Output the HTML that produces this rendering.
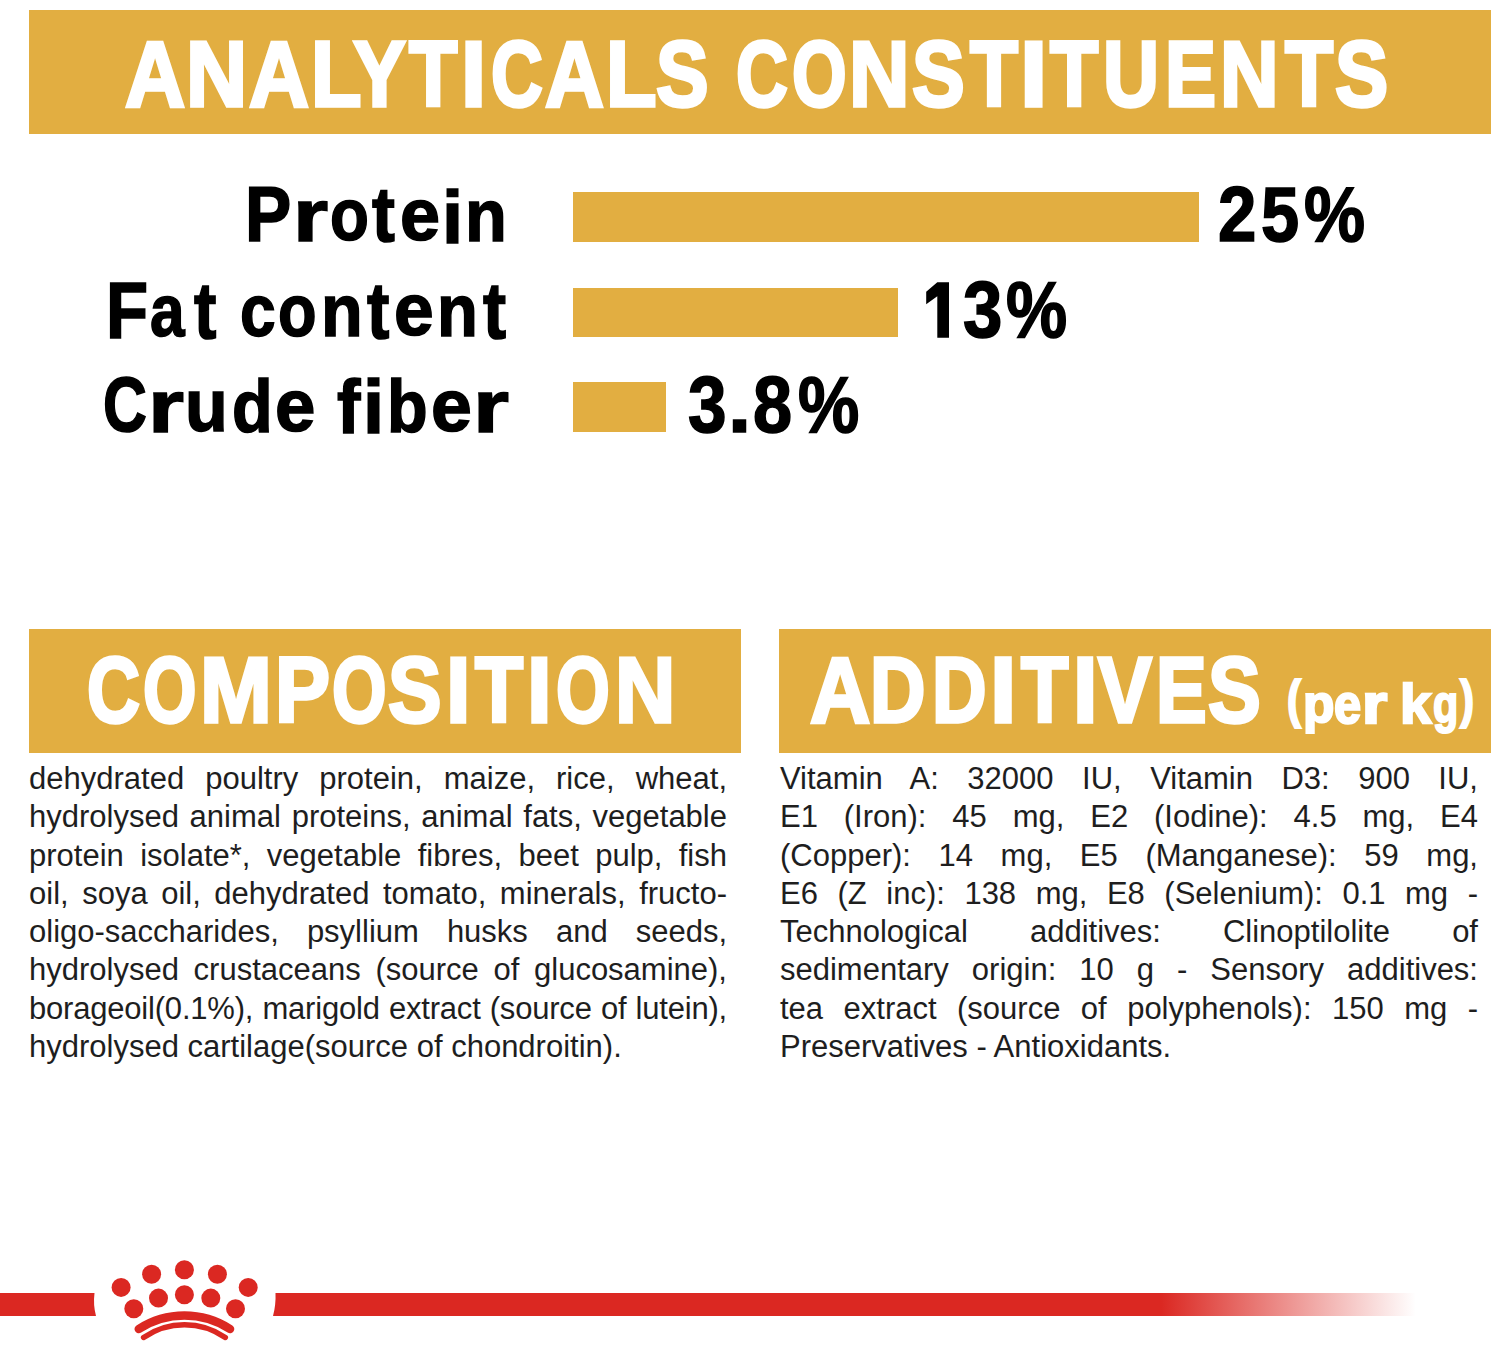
<!DOCTYPE html>
<html><head><meta charset="utf-8"><style>
html,body{margin:0;padding:0;background:#fff;}
body{width:1500px;height:1348px;position:relative;overflow:hidden;font-family:"Liberation Sans",sans-serif;}
.box{position:absolute;background:#E2AE41;}
.t{position:absolute;white-space:nowrap;line-height:1;font-weight:700;transform-origin:0 0;}
.bl{position:absolute;width:698px;font-size:31px;line-height:38.26px;height:38.26px;color:#1e1e1e;text-align:justify;text-align-last:justify;white-space:nowrap;}
.bl{white-space:normal;}
.bl.last{text-align-last:left;}
.red{position:absolute;background:#DB2822;}
</style></head><body>
<div class="box" style="left:29px;top:10px;width:1462px;height:124px"></div>
<span class="t" style="left:125.3px;top:27.96px;font-size:96px;transform:scale(0.8667,0.9643);color:#fff;-webkit-text-stroke:3.5px #fff;">A</span><span class="t" style="left:185.99px;top:27.96px;font-size:96px;transform:scale(0.8817,0.9643);color:#fff;-webkit-text-stroke:3.5px #fff;">N</span><span class="t" style="left:249.1px;top:27.96px;font-size:96px;transform:scale(0.8652,0.9643);color:#fff;-webkit-text-stroke:3.5px #fff;">A</span><span class="t" style="left:310.89px;top:27.96px;font-size:96px;transform:scale(0.8615,0.9643);color:#fff;-webkit-text-stroke:3.5px #fff;">L</span><span class="t" style="left:353.32px;top:27.96px;font-size:96px;transform:scale(0.8242,0.9643);color:#fff;-webkit-text-stroke:3.5px #fff;">Y</span><span class="t" style="left:409.32px;top:27.96px;font-size:96px;transform:scale(0.825,0.9643);color:#fff;-webkit-text-stroke:3.5px #fff;">T</span><span class="t" style="left:461.39px;top:27.96px;font-size:96px;transform:scale(0.9412,0.9643);color:#fff;-webkit-text-stroke:3.5px #fff;">I</span><span class="t" style="left:491.3px;top:27.96px;font-size:96px;transform:scale(0.7478,0.9643);color:#fff;-webkit-text-stroke:3.5px #fff;">C</span><span class="t" style="left:545.1px;top:27.96px;font-size:96px;transform:scale(0.8493,0.9643);color:#fff;-webkit-text-stroke:3.5px #fff;">A</span><span class="t" style="left:605.79px;top:27.96px;font-size:96px;transform:scale(0.8615,0.9643);color:#fff;-webkit-text-stroke:3.5px #fff;">L</span><span class="t" style="left:656.28px;top:27.96px;font-size:96px;transform:scale(0.8213,0.9643);color:#fff;-webkit-text-stroke:3.5px #fff;">S</span><span class="t" style="left:735.8px;top:27.96px;font-size:96px;transform:scale(0.7493,0.9643);color:#fff;-webkit-text-stroke:3.5px #fff;">C</span><span class="t" style="left:792.44px;top:27.96px;font-size:96px;transform:scale(0.7314,0.9643);color:#fff;-webkit-text-stroke:3.5px #fff;">O</span><span class="t" style="left:849.24px;top:27.96px;font-size:96px;transform:scale(0.8717,0.9643);color:#fff;-webkit-text-stroke:3.5px #fff;">N</span><span class="t" style="left:912.48px;top:27.96px;font-size:96px;transform:scale(0.823,0.9643);color:#fff;-webkit-text-stroke:3.5px #fff;">S</span><span class="t" style="left:969.62px;top:27.96px;font-size:96px;transform:scale(0.8183,0.9643);color:#fff;-webkit-text-stroke:3.5px #fff;">T</span><span class="t" style="left:1020.18px;top:27.96px;font-size:96px;transform:scale(1.0235,0.9643);color:#fff;-webkit-text-stroke:3.5px #fff;">I</span><span class="t" style="left:1050.12px;top:27.96px;font-size:96px;transform:scale(0.8233,0.9643);color:#fff;-webkit-text-stroke:3.5px #fff;">T</span><span class="t" style="left:1103.47px;top:27.96px;font-size:96px;transform:scale(0.8082,0.9643);color:#fff;-webkit-text-stroke:3.5px #fff;">U</span><span class="t" style="left:1165.32px;top:27.96px;font-size:96px;transform:scale(0.7965,0.9643);color:#fff;-webkit-text-stroke:3.5px #fff;">E</span><span class="t" style="left:1219.78px;top:27.96px;font-size:96px;transform:scale(0.845,0.9643);color:#fff;-webkit-text-stroke:3.5px #fff;">N</span><span class="t" style="left:1284.82px;top:27.96px;font-size:96px;transform:scale(0.8217,0.9643);color:#fff;-webkit-text-stroke:3.5px #fff;">T</span><span class="t" style="left:1335.17px;top:27.96px;font-size:96px;transform:scale(0.8311,0.9643);color:#fff;-webkit-text-stroke:3.5px #fff;">S</span>
<div class="box" style="left:573px;top:192px;width:626px;height:50px"></div>
<div class="box" style="left:573px;top:288px;width:325px;height:49px"></div>
<div class="box" style="left:573px;top:382px;width:93px;height:50px"></div>
<span class="t" style="left:244.54px;top:175.11px;font-size:78px;transform:scale(0.8891,1.0073);color:#000;-webkit-text-stroke:1.6px #000;">P</span><span class="t" style="left:292.57px;top:177.99px;font-size:78px;transform:scale(1.1577,0.9614);color:#000;-webkit-text-stroke:1.6px #000;">r</span><span class="t" style="left:330.17px;top:178.48px;font-size:78px;transform:scale(0.8163,0.94);color:#000;-webkit-text-stroke:1.6px #000;">o</span><span class="t" style="left:372.3px;top:175.11px;font-size:78px;transform:scale(0.8808,1.0073);color:#000;-webkit-text-stroke:1.6px #000;">t</span><span class="t" style="left:400.15px;top:177.03px;font-size:78px;transform:scale(0.9231,0.9614);color:#000;-webkit-text-stroke:1.6px #000;">e</span><span class="t" style="left:442.12px;top:179.56px;font-size:78px;transform:scale(0.975,0.9552);color:#000;-webkit-text-stroke:1.6px #000;">i</span><span class="t" style="left:465.09px;top:177.99px;font-size:78px;transform:scale(0.8775,0.9614);color:#000;-webkit-text-stroke:1.6px #000;">n</span>
<span class="t" style="left:105.57px;top:270.44px;font-size:78px;transform:scale(0.8833,1.0236);color:#000;-webkit-text-stroke:1.6px #000;">F</span><span class="t" style="left:150.2px;top:273.88px;font-size:78px;transform:scale(0.7977,0.94);color:#000;-webkit-text-stroke:1.6px #000;">a</span><span class="t" style="left:193.8px;top:270.44px;font-size:78px;transform:scale(0.8615,1.0236);color:#000;-webkit-text-stroke:1.6px #000;">t</span><span class="t" style="left:240.45px;top:273.88px;font-size:78px;transform:scale(0.8225,0.94);color:#000;-webkit-text-stroke:1.6px #000;">c</span><span class="t" style="left:278.28px;top:273.88px;font-size:78px;transform:scale(0.8093,0.94);color:#000;-webkit-text-stroke:1.6px #000;">o</span><span class="t" style="left:321.0px;top:273.39px;font-size:78px;transform:scale(0.875,0.9614);color:#000;-webkit-text-stroke:1.6px #000;">n</span><span class="t" style="left:366.9px;top:270.44px;font-size:78px;transform:scale(0.8615,1.0236);color:#000;-webkit-text-stroke:1.6px #000;">t</span><span class="t" style="left:394.07px;top:272.43px;font-size:78px;transform:scale(0.9154,0.9614);color:#000;-webkit-text-stroke:1.6px #000;">e</span><span class="t" style="left:437.27px;top:273.39px;font-size:78px;transform:scale(0.8575,0.9614);color:#000;-webkit-text-stroke:1.6px #000;">n</span><span class="t" style="left:482.7px;top:270.44px;font-size:78px;transform:scale(0.8885,1.0236);color:#000;-webkit-text-stroke:1.6px #000;">t</span>
<span class="t" style="left:102.54px;top:365.22px;font-size:78px;transform:scale(0.7792,1.007);color:#000;-webkit-text-stroke:1.6px #000;">C</span><span class="t" style="left:148.36px;top:368.89px;font-size:78px;transform:scale(1.1846,0.9614);color:#000;-webkit-text-stroke:1.6px #000;">r</span><span class="t" style="left:185.21px;top:367.93px;font-size:78px;transform:scale(0.8974,0.9614);color:#000;-webkit-text-stroke:1.6px #000;">u</span><span class="t" style="left:231.89px;top:369.31px;font-size:78px;transform:scale(0.8537,0.961);color:#000;-webkit-text-stroke:1.6px #000;">d</span><span class="t" style="left:274.84px;top:367.93px;font-size:78px;transform:scale(0.9308,0.9614);color:#000;-webkit-text-stroke:1.6px #000;">e</span><span class="t" style="left:337.4px;top:369.28px;font-size:78px;transform:scale(0.9,0.9655);color:#000;-webkit-text-stroke:1.6px #000;">f</span><span class="t" style="left:363.43px;top:369.28px;font-size:78px;transform:scale(0.975,0.9655);color:#000;-webkit-text-stroke:1.6px #000;">i</span><span class="t" style="left:387.39px;top:369.31px;font-size:78px;transform:scale(0.8537,0.961);color:#000;-webkit-text-stroke:1.6px #000;">b</span><span class="t" style="left:430.62px;top:367.93px;font-size:78px;transform:scale(0.941,0.9614);color:#000;-webkit-text-stroke:1.6px #000;">e</span><span class="t" style="left:472.76px;top:368.89px;font-size:78px;transform:scale(1.1846,0.9614);color:#000;-webkit-text-stroke:1.6px #000;">r</span>
<span class="t" style="left:1218.33px;top:175.46px;font-size:78px;transform:scale(0.8846,1.0036);color:#000;-webkit-text-stroke:1.6px #000;">2</span><span class="t" style="left:1260.94px;top:175.46px;font-size:78px;transform:scale(0.88,1.0036);color:#000;-webkit-text-stroke:1.6px #000;">5</span><span class="t" style="left:1304.32px;top:175.46px;font-size:78px;transform:scale(0.8806,1.0036);color:#000;-webkit-text-stroke:1.6px #000;">%</span>
<span class="t" style="left:962.79px;top:269.35px;font-size:78px;transform:scale(0.9075,1.0291);color:#000;-webkit-text-stroke:1.6px #000;">3</span><span class="t" style="left:1006.42px;top:269.35px;font-size:78px;transform:scale(0.8821,1.0291);color:#000;-webkit-text-stroke:1.6px #000;">%</span>
<span class="t" style="left:688.41px;top:364.74px;font-size:78px;transform:scale(0.8875,1.0218);color:#000;-webkit-text-stroke:1.6px #000;">3</span><span class="t" style="left:728.27px;top:364.74px;font-size:78px;transform:scale(1.0667,1.0218);color:#000;-webkit-text-stroke:1.6px #000;">.</span><span class="t" style="left:753.4px;top:364.74px;font-size:78px;transform:scale(0.9,1.0218);color:#000;-webkit-text-stroke:1.6px #000;">8</span><span class="t" style="left:797.52px;top:364.74px;font-size:78px;transform:scale(0.8836,1.0218);color:#000;-webkit-text-stroke:1.6px #000;">%</span>
<div class="box" style="left:28.5px;top:628.5px;width:712.5px;height:124px"></div>
<div class="box" style="left:779px;top:628.5px;width:712px;height:124px"></div>
<span class="t" style="left:86.97px;top:643.81px;font-size:96px;transform:scale(0.7642,0.9686);color:#fff;-webkit-text-stroke:3.5px #fff;">C</span><span class="t" style="left:142.57px;top:643.81px;font-size:96px;transform:scale(0.7157,0.9686);color:#fff;-webkit-text-stroke:3.5px #fff;">O</span><span class="t" style="left:200.31px;top:643.81px;font-size:96px;transform:scale(0.8986,0.9686);color:#fff;-webkit-text-stroke:3.5px #fff;">M</span><span class="t" style="left:275.2px;top:643.81px;font-size:96px;transform:scale(0.8596,0.9686);color:#fff;-webkit-text-stroke:3.5px #fff;">P</span><span class="t" style="left:332.44px;top:643.81px;font-size:96px;transform:scale(0.73,0.9686);color:#fff;-webkit-text-stroke:3.5px #fff;">O</span><span class="t" style="left:388.16px;top:643.81px;font-size:96px;transform:scale(0.8361,0.9686);color:#fff;-webkit-text-stroke:3.5px #fff;">S</span><span class="t" style="left:445.61px;top:643.81px;font-size:96px;transform:scale(0.9176,0.9686);color:#fff;-webkit-text-stroke:3.5px #fff;">I</span><span class="t" style="left:475.02px;top:643.81px;font-size:96px;transform:scale(0.82,0.9686);color:#fff;-webkit-text-stroke:3.5px #fff;">T</span><span class="t" style="left:526.68px;top:643.81px;font-size:96px;transform:scale(0.9235,0.9686);color:#fff;-webkit-text-stroke:3.5px #fff;">I</span><span class="t" style="left:556.36px;top:643.81px;font-size:96px;transform:scale(0.72,0.9686);color:#fff;-webkit-text-stroke:3.5px #fff;">O</span><span class="t" style="left:614.65px;top:643.81px;font-size:96px;transform:scale(0.87,0.9686);color:#fff;-webkit-text-stroke:3.5px #fff;">N</span>
<span class="t" style="left:809.6px;top:643.93px;font-size:96px;transform:scale(0.8696,0.9671);color:#fff;-webkit-text-stroke:3.5px #fff;">A</span><span class="t" style="left:870.4px;top:643.93px;font-size:96px;transform:scale(0.8,0.9671);color:#fff;-webkit-text-stroke:3.5px #fff;">D</span><span class="t" style="left:932.06px;top:643.93px;font-size:96px;transform:scale(0.7871,0.9671);color:#fff;-webkit-text-stroke:3.5px #fff;">D</span><span class="t" style="left:990.26px;top:643.93px;font-size:96px;transform:scale(0.9882,0.9671);color:#fff;-webkit-text-stroke:3.5px #fff;">I</span><span class="t" style="left:1021.21px;top:643.93px;font-size:96px;transform:scale(0.8083,0.9671);color:#fff;-webkit-text-stroke:3.5px #fff;">T</span><span class="t" style="left:1073.01px;top:643.93px;font-size:96px;transform:scale(0.9176,0.9671);color:#fff;-webkit-text-stroke:3.5px #fff;">I</span><span class="t" style="left:1098.38px;top:643.93px;font-size:96px;transform:scale(0.8412,0.9671);color:#fff;-webkit-text-stroke:3.5px #fff;">V</span><span class="t" style="left:1155.94px;top:643.93px;font-size:96px;transform:scale(0.7912,0.9671);color:#fff;-webkit-text-stroke:3.5px #fff;">E</span><span class="t" style="left:1208.48px;top:643.93px;font-size:96px;transform:scale(0.8246,0.9671);color:#fff;-webkit-text-stroke:3.5px #fff;">S</span>
<span class="t" style="left:1286.6px;top:673.44px;font-size:60px;transform:scale(0.7,0.8772);color:#fff;-webkit-text-stroke:2.5px #fff;">(</span><span class="t" style="left:1302.73px;top:677.7px;font-size:60px;transform:scale(0.8563,0.8826);color:#fff;-webkit-text-stroke:2.5px #fff;">p</span><span class="t" style="left:1334.49px;top:677.19px;font-size:60px;transform:scale(0.8125,0.9178);color:#fff;-webkit-text-stroke:2.5px #fff;">e</span><span class="t" style="left:1362.06px;top:677.19px;font-size:60px;transform:scale(1.081,0.9178);color:#fff;-webkit-text-stroke:2.5px #fff;">r</span><span class="t" style="left:1399.89px;top:677.19px;font-size:60px;transform:scale(0.9375,0.9178);color:#fff;-webkit-text-stroke:2.5px #fff;">k</span><span class="t" style="left:1432.61px;top:677.62px;font-size:60px;transform:scale(0.6879,0.887);color:#fff;-webkit-text-stroke:2.5px #fff;">g</span><span class="t" style="left:1460.1px;top:673.44px;font-size:60px;transform:scale(0.7,0.8772);color:#fff;-webkit-text-stroke:2.5px #fff;">)</span>
<div class="bl" style="left:29px;top:760.10px;">dehydrated poultry protein, maize, rice, wheat,</div>
<div class="bl" style="left:29px;top:798.36px;">hydrolysed animal proteins, animal fats, vegetable</div>
<div class="bl" style="left:29px;top:836.62px;">protein isolate*, vegetable fibres, beet pulp, fish</div>
<div class="bl" style="left:29px;top:874.88px;">oil, soya oil, dehydrated tomato, minerals, fructo-</div>
<div class="bl" style="left:29px;top:913.14px;">oligo-saccharides, psyllium husks and seeds,</div>
<div class="bl" style="left:29px;top:951.40px;">hydrolysed crustaceans (source of glucosamine),</div>
<div class="bl" style="left:29px;top:989.66px;letter-spacing:-0.2px;">borageoil(0.1%), marigold extract (source of lutein),</div>
<div class="bl last" style="left:29px;top:1027.92px;">hydrolysed cartilage(source of chondroitin).</div>
<div class="bl" style="left:780px;top:760.10px;">Vitamin A: 32000 IU, Vitamin D3: 900 IU,</div>
<div class="bl" style="left:780px;top:798.36px;">E1 (Iron): 45 mg, E2 (Iodine): 4.5 mg, E4</div>
<div class="bl" style="left:780px;top:836.62px;">(Copper): 14 mg, E5 (Manganese): 59 mg,</div>
<div class="bl" style="left:780px;top:874.88px;">E6 (Z inc): 138 mg, E8 (Selenium): 0.1 mg -</div>
<div class="bl" style="left:780px;top:913.14px;">Technological additives: Clinoptilolite of</div>
<div class="bl" style="left:780px;top:951.40px;">sedimentary origin: 10 g - Sensory additives:</div>
<div class="bl" style="left:780px;top:989.66px;">tea extract (source of polyphenols): 150 mg -</div>
<div class="bl last" style="left:780px;top:1027.92px;">Preservatives - Antioxidants.</div>
<div class="red" style="left:276px;top:1293px;width:1140px;height:23px;background:linear-gradient(to right,#DB2822 0px,#DB2822 885px,rgba(219,40,34,0) 1140px)"></div>
<svg style="position:absolute;left:0;top:0" width="1500" height="1348" viewBox="0 0 1500 1348">
<path d="M937.3 282.2 L949 282.2 L949 337.8 L937.3 337.8 L937.3 296.2 L926.2 304.2 L926.2 291.8 Z" fill="#000"/>
<g fill="#DB2822"><circle cx="121.1" cy="1287.4" r="9.5"/><circle cx="151.6" cy="1274.2" r="9.5"/><circle cx="184.4" cy="1269.8" r="9.5"/><circle cx="217.4" cy="1274.2" r="9.5"/><circle cx="248.2" cy="1287.4" r="9.5"/><circle cx="133.8" cy="1308.7" r="9.5"/><circle cx="158.5" cy="1298.1" r="9.5"/><circle cx="184.4" cy="1294.7" r="9.5"/><circle cx="210.8" cy="1298.1" r="9.5"/><circle cx="235.5" cy="1308.7" r="9.5"/><path d="M0 1293 L94.5 1293 Q93 1305 96 1316 L0 1316 Z"/><path d="M277 1293 L275.5 1293 Q276 1305 273 1316 L277 1316 Z"/></g>
<g fill="none" stroke="#DB2822" stroke-linecap="round">
<path d="M138.8 1329 A84 84 0 0 1 230 1329" stroke-width="8.6"/>
<path d="M143.6 1337.4 A72 72 0 0 1 225.3 1337.4" stroke-width="5.5"/>
</g>
</svg>
</body></html>
